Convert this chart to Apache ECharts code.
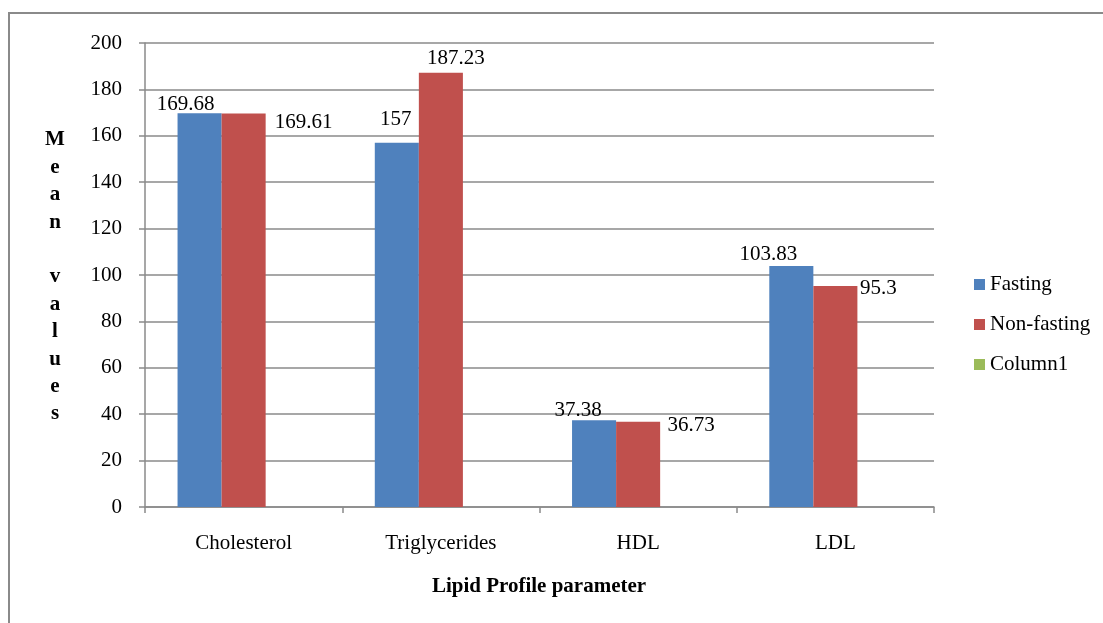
<!DOCTYPE html>
<html>
<head>
<meta charset="utf-8">
<style>
  html, body { margin: 0; padding: 0; background: #ffffff; }
  #chart { width: 1103px; height: 623px; }
</style>
<script src="https://cdn.jsdelivr.net/npm/echarts@6/dist/echarts.min.js"></script>
</head>
<body>
<div id="chart"></div>
<script>
// Lipid profile means, fasting vs non-fasting
const categories = ['Cholesterol', 'Triglycerides', 'HDL', 'LDL'];
const fasting = [169.68, 157, 37.38, 103.83];
const nonFasting = [169.61, 187.23, 36.73, 95.3];
const column1 = ['-', '-', '-', '-'];
const yTicks = [0, 20, 40, 60, 80, 100, 120, 140, 160, 180, 200];

// Label nudges (px) relative to the top-centre of each bar
const fastingLabelShift = [[-14, 1], [-1, -13], [-16, 0], [-23, -2]];
const nonFastingLabelShift = [[60, 19], [15, -4], [53, 14], [43, 13]];

const FONT = '"Liberation Serif", "Times New Roman", serif';
const GRID_GRAY = '#8a8a8a';
const FS = 21;

function withLabels(values, shifts) {
  return values.map((v, i) => ({
    value: v,
    label: { offset: shifts[i] }
  }));
}

const labelBase = {
  show: true,
  position: 'top',
  distance: 0,
  color: '#000',
  fontFamily: FONT,
  fontSize: FS,
  lineHeight: 20
};

const chart = echarts.init(document.getElementById('chart'), null, { renderer: 'canvas' });

chart.setOption({
  animation: false,
  backgroundColor: '#ffffff',
  textStyle: { fontFamily: FONT },
  grid: { left: 145, right: 169, top: 43, bottom: 116, containLabel: false },
  legend: {
    orient: 'vertical',
    left: 974,
    top: 274,
    padding: 0,
    itemWidth: 11,
    itemHeight: 11,
    itemGap: 19,
    icon: 'rect',
    textStyle: { fontFamily: FONT, fontSize: FS, color: '#000', lineHeight: 20 },
    data: ['Fasting', 'Non-fasting', 'Column1']
  },
  xAxis: {
    type: 'category',
    data: categories,
    axisLine: { lineStyle: { color: GRID_GRAY, width: 1.5 } },
    axisTick: { show: true, length: 6, lineStyle: { color: GRID_GRAY, width: 1.5 } },
    axisLabel: { color: '#000', fontFamily: FONT, fontSize: FS, lineHeight: 21, margin: 26 }
  },
  yAxis: {
    type: 'value',
    min: yTicks[0],
    max: yTicks[yTicks.length - 1],
    interval: yTicks[1] - yTicks[0],
    axisLine: { show: true, lineStyle: { color: GRID_GRAY, width: 1.5 } },
    axisTick: { show: true, length: 6, lineStyle: { color: GRID_GRAY, width: 1.5 } },
    splitLine: { show: true, lineStyle: { color: GRID_GRAY, width: 1.5 } },
    axisLabel: { color: '#000', fontFamily: FONT, fontSize: FS, margin: 23 }
  },
  series: [
    {
      name: 'Fasting',
      type: 'bar',
      barGap: '0%',
      barCategoryGap: '33%',
      itemStyle: { color: '#4F81BD' },
      label: labelBase,
      data: withLabels(fasting, fastingLabelShift)
    },
    {
      name: 'Non-fasting',
      type: 'bar',
      barGap: '0%',
      barCategoryGap: '33%',
      itemStyle: { color: '#C0504D' },
      label: labelBase,
      data: withLabels(nonFasting, nonFastingLabelShift)
    },
    {
      name: 'Column1',
      type: 'bar',
      barGap: '0%',
      barCategoryGap: '33%',
      itemStyle: { color: '#9BBB59' },
      data: column1
    }
  ],
  graphic: [
    {
      type: 'rect',
      silent: true,
      shape: { x: 9, y: 13, width: 1110, height: 630 },
      style: { fill: 'none', stroke: '#8a8a8a', lineWidth: 2 },
      z: -1
    },
    {
      type: 'text',
      silent: true,
      x: 539, y: 587,
      style: {
        text: 'Lipid Profile parameter',
        font: 'bold ' + FS + 'px ' + FONT,
        fill: '#000',
        textAlign: 'center',
        textVerticalAlign: 'middle'
      }
    },
    {
      type: 'text',
      silent: true,
      x: 55, y: 277,
      style: {
        text: ['M', 'e', 'a', 'n', ' ', 'v', 'a', 'l', 'u', 'e', 's'].join('\n'),
        font: 'bold ' + FS + 'px ' + FONT,
        fill: '#000',
        lineHeight: 27.4,
        textAlign: 'center',
        textVerticalAlign: 'middle'
      }
    }
  ]
});
</script>
</body>
</html>
